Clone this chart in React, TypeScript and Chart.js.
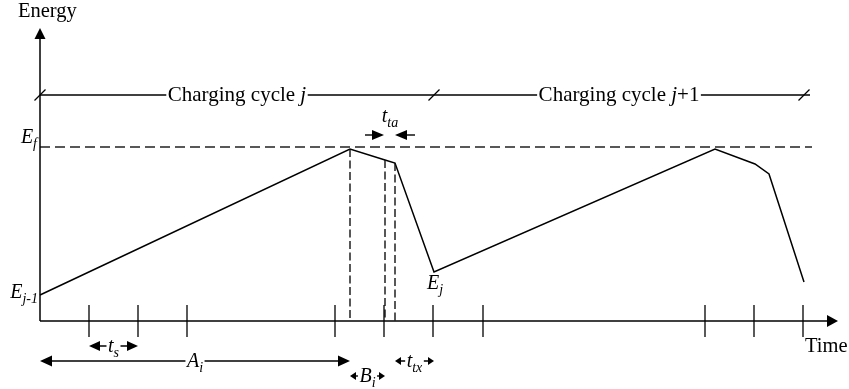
import React, { useEffect, useRef } from "react";
import { Chart, registerables } from "chart.js";

Chart.register(...registerables);

// ---- data (time units / energy units) ----
const cycleTimes = [0, 310, 345, 355, 394, 675, 715, 729, 764];
const energyValues = [26, 172, 161, 158, 49, 172, 157, 147, 39];
const fullEnergy = 174; // E_f
const cycleLevel = 226; // level of the "Charging cycle" bracket
const tickTimes = [49, 98, 147, 295, 344, 393, 443, 665, 714, 763];
const dropTimes = [310, 345, 355]; // dashed vertical markers
const cycleBounds = [0, 394, 764];
const cycleNames = ["j", "j+1"];
const timeMax = 798;
const energyMax = 293;

const FONT = '"Liberation Serif", "Times New Roman", serif';

type Run = { text: string; italic?: boolean; sub?: boolean };

function runFont(r: Run, size: number) {
  const s = r.sub ? Math.round(size * 0.7) : size;
  return `${r.italic ? "italic " : ""}${s}px ${FONT}`;
}

function measureRuns(ctx: CanvasRenderingContext2D, runs: Run[], size: number) {
  let w = 0;
  for (const r of runs) {
    ctx.font = runFont(r, size);
    w += ctx.measureText(r.text).width;
  }
  return w;
}

function drawRuns(
  ctx: CanvasRenderingContext2D,
  runs: Run[],
  x: number,
  y: number,
  align: "left" | "center" | "right",
  size: number,
  bg = false
) {
  const w = measureRuns(ctx, runs, size);
  let cx = align === "center" ? x - w / 2 : align === "right" ? x - w : x;
  if (bg) {
    ctx.save();
    ctx.fillStyle = "#fff";
    ctx.fillRect(cx - 1.5, y - size * 0.75, w + 3, size * 1.05);
    ctx.restore();
  }
  ctx.textAlign = "left";
  ctx.textBaseline = "alphabetic";
  for (const r of runs) {
    ctx.font = runFont(r, size);
    ctx.fillText(r.text, cx, y + (r.sub ? 4.5 : 0));
    cx += ctx.measureText(r.text).width;
  }
  return w;
}

function seg(ctx: CanvasRenderingContext2D, x1: number, y1: number, x2: number, y2: number) {
  ctx.beginPath();
  ctx.moveTo(x1, y1);
  ctx.lineTo(x2, y2);
  ctx.stroke();
}

function head(
  ctx: CanvasRenderingContext2D,
  tx: number,
  ty: number,
  dx: number,
  dy: number,
  len: number,
  hw: number
) {
  const bx = tx - dx * len;
  const by = ty - dy * len;
  ctx.beginPath();
  ctx.moveTo(tx, ty);
  ctx.lineTo(bx - dy * hw, by + dx * hw);
  ctx.lineTo(bx + dy * hw, by - dx * hw);
  ctx.closePath();
  ctx.fill();
}

function energyAt(t: number) {
  return energyValues[cycleTimes.indexOf(t)];
}

const diagramPlugin = {
  id: "diagram",
  afterDraw(chart: any) {
    const ctx: CanvasRenderingContext2D = chart.ctx;
    const xs = chart.scales.x;
    const ys = chart.scales.y;
    const px = (t: number) => xs.getPixelForValue(t);
    const py = (e: number) => ys.getPixelForValue(e);
    const { left, right, top, bottom } = chart.chartArea;

    ctx.save();
    ctx.strokeStyle = "#000";
    ctx.fillStyle = "#000";
    ctx.lineWidth = 1.5;
    ctx.setLineDash([]);

    // axes
    seg(ctx, left, bottom, left, top + 8);
    seg(ctx, left, bottom, right - 8, bottom);
    head(ctx, left, top, 0, -1, 11, 5.5);
    head(ctx, right, bottom, 1, 0, 11, 6);

    // ticks
    ctx.lineWidth = 1.3;
    for (const t of tickTimes) seg(ctx, px(t), bottom - 16, px(t), bottom + 16);

    // axis names
    drawRuns(ctx, [{ text: "Energy" }], left - 22, 17, "left", 20.5);
    drawRuns(ctx, [{ text: "Time" }], px(cycleBounds[2]) + 1, bottom + 31, "left", 20.5);

    // charging cycle bracket
    const cy = py(cycleLevel);
    ctx.lineWidth = 1.3;
    seg(ctx, px(cycleBounds[0]), cy, px(cycleBounds[cycleBounds.length - 1]) + 6, cy);
    for (const b of cycleBounds) seg(ctx, px(b) - 5.5, cy + 5.5, px(b) + 5.5, cy - 5.5);
    for (let i = 0; i < cycleNames.length; i++) {
      const mid = (px(cycleBounds[i]) + px(cycleBounds[i + 1])) / 2;
      const name = cycleNames[i];
      const runs: Run[] = [{ text: "Charging cycle " }, { text: name.charAt(0), italic: true }];
      if (name.length > 1) runs.push({ text: name.slice(1) });
      drawRuns(ctx, runs, mid, cy + 6, "center", 21, true);
    }

    // energy labels
    const LS = 20;
    drawRuns(ctx, [{ text: "E", italic: true }, { text: "f", italic: true, sub: true }], left - 3, py(fullEnergy) - 4, "right", LS);
    drawRuns(ctx, [{ text: "E", italic: true }, { text: "j-1", italic: true, sub: true }], left - 2, py(energyValues[0]) + 3, "right", LS);
    drawRuns(ctx, [{ text: "E", italic: true }, { text: "j", italic: true, sub: true }], px(cycleBounds[1]) - 7, py(energyAt(cycleBounds[1])) + 17, "left", LS);

    // t_ta marker
    const ta1 = px(dropTimes[1]);
    const ta2 = px(dropTimes[2]);
    const ay = py(fullEnergy) - 12;
    ctx.lineWidth = 1.4;
    seg(ctx, ta1 - 20, ay, ta1 - 6, ay);
    head(ctx, ta1 - 1, ay, 1, 0, 12, 5);
    seg(ctx, ta2 + 20, ay, ta2 + 6, ay);
    head(ctx, ta2, ay, -1, 0, 12, 5);
    drawRuns(ctx, [{ text: "t", italic: true }, { text: "ta", italic: true, sub: true }], (ta1 + ta2) / 2, ay - 13, "center", LS);

    // dimension arrows below the axis
    const dim = (t1: number, t2: number, y: number, runs: Run[], len: number, hw: number) => {
      const x1 = px(t1);
      const x2 = px(t2);
      ctx.lineWidth = 1.4;
      seg(ctx, x1 + 2, y, x2 - 2, y);
      head(ctx, x1, y, -1, 0, len, hw);
      head(ctx, x2, y, 1, 0, len, hw);
      drawRuns(ctx, runs, (x1 + x2) / 2, y + 6, "center", LS, true);
    };
    dim(tickTimes[0], tickTimes[1], bottom + 25, [{ text: "t", italic: true }, { text: "s", italic: true, sub: true }], 11, 5);
    dim(cycleBounds[0], dropTimes[0], bottom + 40, [{ text: "A", italic: true }, { text: "i", italic: true, sub: true }], 12, 5.5);
    dim(dropTimes[0], dropTimes[1], bottom + 55, [{ text: "B", italic: true }, { text: "i", italic: true, sub: true }], 6, 4);
    dim(dropTimes[2], cycleBounds[1], bottom + 40, [{ text: "t", italic: true }, { text: "tx", italic: true, sub: true }], 6, 4);

    ctx.restore();
  },
};

export default function App() {
  const canvasRef = useRef<HTMLCanvasElement | null>(null);

  useEffect(() => {
    const canvas = canvasRef.current;
    if (!canvas) return;

    const energyCurve = cycleTimes.map((t, i) => ({ x: t, y: energyValues[i] }));
    const dropSets = dropTimes.map((t) => ({
      data: [
        { x: t, y: energyAt(t) },
        { x: t, y: 0 },
      ],
      borderColor: "#111",
      borderWidth: 1.4,
      borderDash: [8, 3.5],
      pointRadius: 0,
      clip: false as any,
    }));

    const chart = new Chart(canvas, {
      type: "line",
      data: {
        datasets: [
          {
            data: [
              { x: 0, y: fullEnergy },
              { x: cycleBounds[cycleBounds.length - 1] + 8, y: fullEnergy },
            ],
            borderColor: "#222",
            borderWidth: 1.4,
            borderDash: [10, 5],
            pointRadius: 0,
            clip: false as any,
          },
          ...dropSets,
          {
            data: energyCurve,
            borderColor: "#000",
            borderWidth: 1.5,
            pointRadius: 0,
            tension: 0,
            clip: false as any,
          },
        ],
      },
      options: {
        responsive: false,
        animation: false,
        devicePixelRatio: 1,
        layout: { padding: { left: 40, top: 28, right: 11, bottom: 68 } },
        scales: {
          x: { type: "linear", min: 0, max: timeMax, display: false },
          y: { type: "linear", min: 0, max: energyMax, display: false },
        },
        plugins: { legend: { display: false }, tooltip: { enabled: false } },
        events: [],
      },
      plugins: [diagramPlugin],
    });

    return () => chart.destroy();
  }, []);

  return (
    <div style={{ position: "absolute", left: 0, top: 0, width: 849, height: 389, background: "#fff" }}>
      <canvas ref={canvasRef} width={849} height={389} style={{ display: "block" }} />
    </div>
  );
}
